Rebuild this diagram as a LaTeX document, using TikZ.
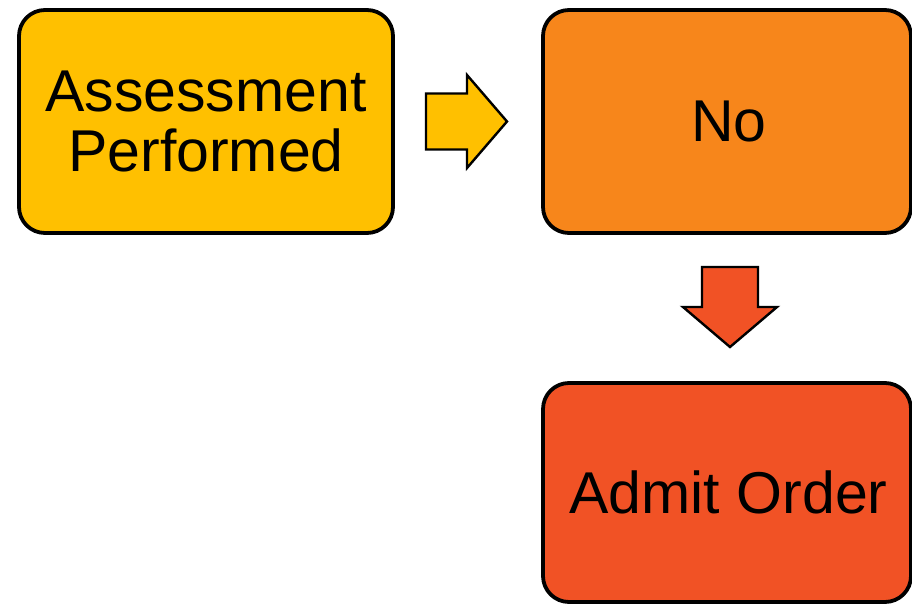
\documentclass[tikz,border=0pt]{standalone}
\usepackage{fontspec}
\setmainfont{Liberation Sans}
\usetikzlibrary{calc}
\definecolor{cyellow}{HTML}{FFC000}
\definecolor{corange}{HTML}{F7861B}
\definecolor{cred}{HTML}{F15225}
\tikzset{
  box/.style={draw=black, line width=3.8pt, rounded corners=26pt, inner sep=0pt,
    align=center, font=\fontsize{59}{60}\selectfont},
  blockarrow/.style={draw=black, line width=2.4pt, line join=miter},
}
\begin{document}
\begin{tikzpicture}[x=1pt,y=-1pt]
\useasboundingbox (0,0) rectangle (912,604);
\clip (0,0) rectangle (912,604);
\node[box, fill=cyellow, minimum width=374pt, minimum height=223pt] (assess) at (206,121.5) {Assessment\\Performed};
\node[box, fill=corange, minimum width=368pt, minimum height=223pt] (no) at (727,121.5) {\hspace*{4pt}No};
\node[box, fill=cred, minimum width=368pt, minimum height=219pt] (admit) at (727,492.5) {\hspace*{3pt}Admit Order};
\coordinate (m1) at ($(assess.east)!0.5!(no.west)+(-1.5,0)$);
\coordinate (m2) at ($(no.south)!0.5!(admit.north)+(3,-1)$);
\draw[blockarrow, fill=cyellow] (m1) ++(-40.5,-28) -- ++(41,0) -- ++(0,-18.5) -- ++(40,46.5)
  -- ++(-40,46.5) -- ++(0,-18.5) -- ++(-41,0) -- cycle;
\draw[blockarrow, fill=cred] (m2) ++(-28,-40) -- ++(56,0) -- ++(0,40) -- ++(19,0)
  -- ++(-47,40) -- ++(-47,-40) -- ++(19,0) -- cycle;
\end{tikzpicture}
\end{document}
